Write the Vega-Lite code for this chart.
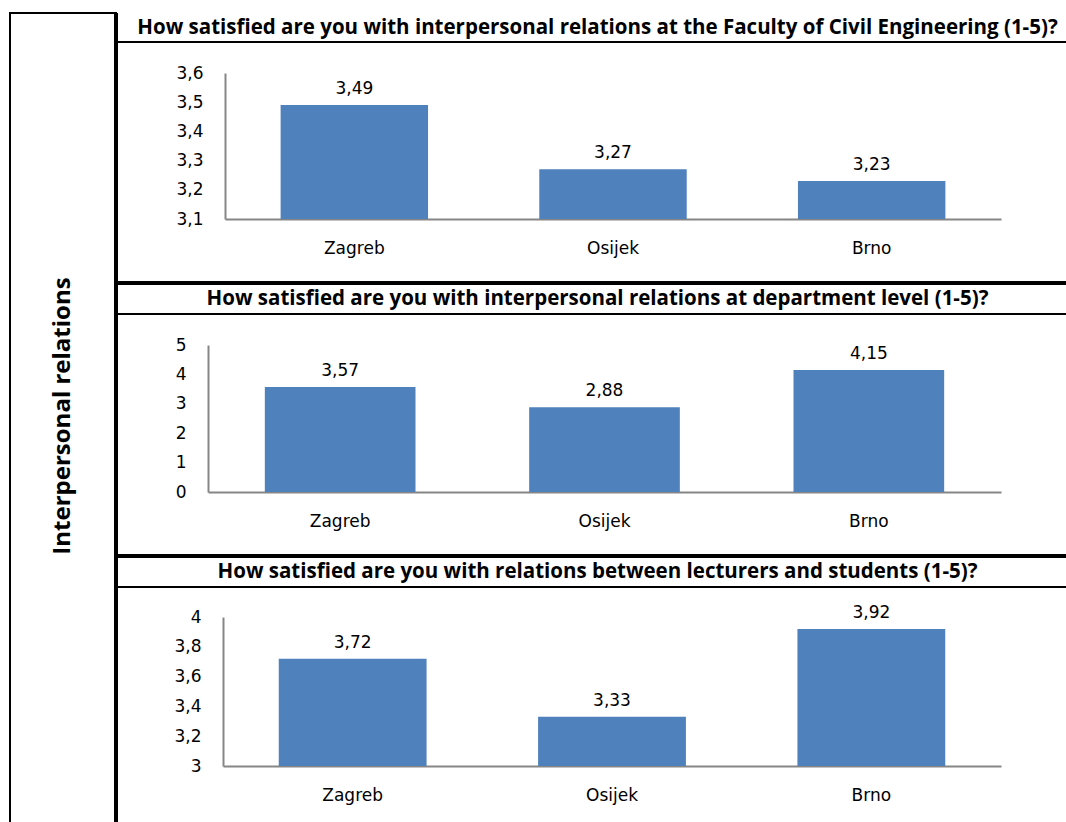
{
  "$schema": "https://vega.github.io/schema/vega-lite/v6.json",
  "padding": {"left": 9, "top": 10, "right": 0, "bottom": 0},
  "bounds": "flush",
  "spacing": 0,
  "background": "white",
  "config": {
    "view": {"stroke": "black", "strokeWidth": 2},
    "concat": {"spacing": 0},
    "locale": {"number": {"decimal": ",", "thousands": ".", "grouping": [3], "currency": ["", " €"]}},
    "axis": {
      "domainColor": "#868686",
      "domainWidth": 2,
      "ticks": false,
      "grid": false,
      "labelFont": "DejaVu Sans",
      "labelFontSize": 17,
      "labelColor": "black",
      "title": null
    },
    "axisY": {"labelPadding": 22},
    "axisX": {"labelPadding": 21, "labelAngle": 0},
    "text": {"font": "DejaVu Sans", "fontSize": 17, "color": "black"}
  },
  "datasets": {
    "responses": [
      {"panel": "faculty", "city": "Zagreb", "score": 3.49},
      {"panel": "faculty", "city": "Osijek", "score": 3.27},
      {"panel": "faculty", "city": "Brno", "score": 3.23},
      {"panel": "department", "city": "Zagreb", "score": 3.57},
      {"panel": "department", "city": "Osijek", "score": 2.88},
      {"panel": "department", "city": "Brno", "score": 4.15},
      {"panel": "lecturers", "city": "Zagreb", "score": 3.72},
      {"panel": "lecturers", "city": "Osijek", "score": 3.33},
      {"panel": "lecturers", "city": "Brno", "score": 3.92}
    ],
    "questions": [
      {"panel": "faculty", "question": "How satisfied are you with interpersonal relations at the Faculty of Civil Engineering (1-5)?"},
      {"panel": "department", "question": "How satisfied are you with interpersonal relations at department level (1-5)?"},
      {"panel": "lecturers", "question": "How satisfied are you with relations between lecturers and students (1-5)?"}
    ],
    "section": [{"label": "Interpersonal relations"}],
    "edge": [{"edge": "bottom"}]
  },
  "hconcat": [
    {
      "width": 106,
      "height": 822,
      "data": {"name": "section"},
      "layer": [
        {
          "mark": {"type": "text", "angle": 270, "font": "Open Sans", "fontWeight": "bold", "fontSize": 24, "align": "center", "baseline": "middle", "dx": 8, "dy": 0},
          "encoding": {"text": {"field": "label"}}
        },
        {
          "mark": {"type": "rule", "strokeWidth": 4, "color": "black"},
          "encoding": {"x": {"value": "width"}}
        }
      ]
    },
    {
      "spacing": 0,
      "bounds": "flush",
      "vconcat": [
        {
          "width": 951,
          "height": 29,
          "data": {"name": "questions"},
          "transform": [{"filter": "datum.panel === 'faculty'"}],
          "mark": {"type": "text", "font": "Open Sans", "fontWeight": "bold", "fontSize": 20.5, "align": "center", "baseline": "middle", "dx": 6},
          "encoding": {"text": {"field": "question"}}
        },
        {
          "width": 951,
          "height": 241,
          "layer": [
            {
              "data": {"name": "responses"},
              "transform": [{"filter": "datum.panel === 'faculty'"}],
              "encoding": {
                "x": {"field": "city", "type": "nominal", "sort": null,
                      "scale": {"range": [109, 885], "paddingInner": 0.43, "paddingOuter": 0.215},
                      "axis": {"offset": -64}},
                "y": {"field": "score", "type": "quantitative",
                      "scale": {"domain": [3.1, 3.6], "range": [177, 31], "zero": false, "nice": false},
                      "axis": {"offset": -109, "values": [3.1, 3.2, 3.3, 3.4, 3.5, 3.6], "format": ".1f"}}
              },
              "layer": [
                {"mark": {"type": "bar", "color": "#4F81BD"}, "encoding": {"y2": {"datum": 3.1}}},
                {"mark": {"type": "text", "baseline": "bottom", "dy": -7}, "encoding": {"text": {"field": "score", "format": ".2f"}}}
              ]
            },
            {
              "data": {"name": "edge"},
              "mark": {"type": "rule", "strokeWidth": 4, "color": "black"},
              "encoding": {"y": {"value": "height"}}
            }
          ]
        },
        {
          "width": 951,
          "height": 31,
          "data": {"name": "questions"},
          "transform": [{"filter": "datum.panel === 'department'"}],
          "mark": {"type": "text", "font": "Open Sans", "fontWeight": "bold", "fontSize": 20.5, "align": "center", "baseline": "middle", "dx": 6},
          "encoding": {"text": {"field": "question"}}
        },
        {
          "width": 951,
          "height": 242,
          "layer": [
            {
              "data": {"name": "responses"},
              "transform": [{"filter": "datum.panel === 'department'"}],
              "encoding": {
                "x": {"field": "city", "type": "nominal", "sort": null,
                      "scale": {"range": [92, 885], "paddingInner": 0.43, "paddingOuter": 0.215},
                      "axis": {"offset": -64}},
                "y": {"field": "score", "type": "quantitative",
                      "scale": {"domain": [0, 5], "range": [178, 31], "nice": false},
                      "axis": {"offset": -92, "values": [0, 1, 2, 3, 4, 5], "format": "d"}}
              },
              "layer": [
                {"mark": {"type": "bar", "color": "#4F81BD"}, "encoding": {"y2": {"datum": 0}}},
                {"mark": {"type": "text", "baseline": "bottom", "dy": -7}, "encoding": {"text": {"field": "score", "format": ".2f"}}}
              ]
            },
            {
              "data": {"name": "edge"},
              "mark": {"type": "rule", "strokeWidth": 4, "color": "black"},
              "encoding": {"y": {"value": "height"}}
            }
          ]
        },
        {
          "width": 951,
          "height": 31,
          "data": {"name": "questions"},
          "transform": [{"filter": "datum.panel === 'lecturers'"}],
          "mark": {"type": "text", "font": "Open Sans", "fontWeight": "bold", "fontSize": 20.5, "align": "center", "baseline": "middle", "dx": 6},
          "encoding": {"text": {"field": "question"}}
        },
        {
          "width": 951,
          "height": 238,
          "data": {"name": "responses"},
          "transform": [{"filter": "datum.panel === 'lecturers'"}],
          "encoding": {
            "x": {"field": "city", "type": "nominal", "sort": null,
                  "scale": {"range": [107, 885], "paddingInner": 0.43, "paddingOuter": 0.215},
                  "axis": {"offset": -59}},
            "y": {"field": "score", "type": "quantitative",
                  "scale": {"domain": [3, 4], "range": [179, 30], "zero": false, "nice": false},
                  "axis": {"offset": -107, "values": [3, 3.2, 3.4, 3.6, 3.8, 4], "format": ".2~f"}}
          },
          "layer": [
            {"mark": {"type": "bar", "color": "#4F81BD"}, "encoding": {"y2": {"datum": 3}}},
            {"mark": {"type": "text", "baseline": "bottom", "dy": -7}, "encoding": {"text": {"field": "score", "format": ".2f"}}}
          ]
        }
      ]
    }
  ]
}
